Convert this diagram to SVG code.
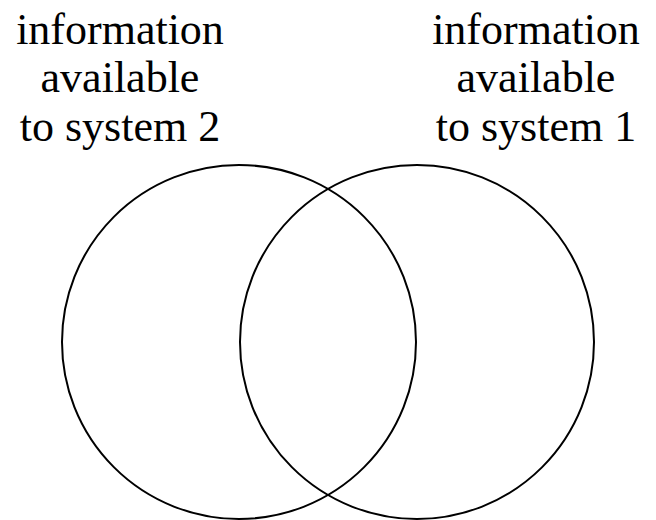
<svg xmlns="http://www.w3.org/2000/svg" width="656" height="520" viewBox="0 0 656 520">
<style>
.lbl{font-family:"Liberation Serif","Times New Roman",serif;font-size:44px;fill:#000;text-anchor:middle}
.c{fill:none;stroke:#000;stroke-width:2}
</style>
<rect width="656" height="520" fill="#fff"/>
<g id="circle-system2"><circle class="c" cx="239" cy="342" r="177"/></g>
<g id="circle-system1"><circle class="c" cx="417" cy="342" r="177"/></g>
<g id="label-system2">
<text class="lbl" x="120" y="44">information</text>
<text class="lbl" x="120" y="92">available</text>
<text class="lbl" x="120" y="141">to system 2</text>
</g>
<g id="label-system1">
<text class="lbl" x="536" y="44">information</text>
<text class="lbl" x="536" y="92">available</text>
<text class="lbl" x="536" y="141">to system 1</text>
</g>
<g id="connectors"></g>
</svg>
